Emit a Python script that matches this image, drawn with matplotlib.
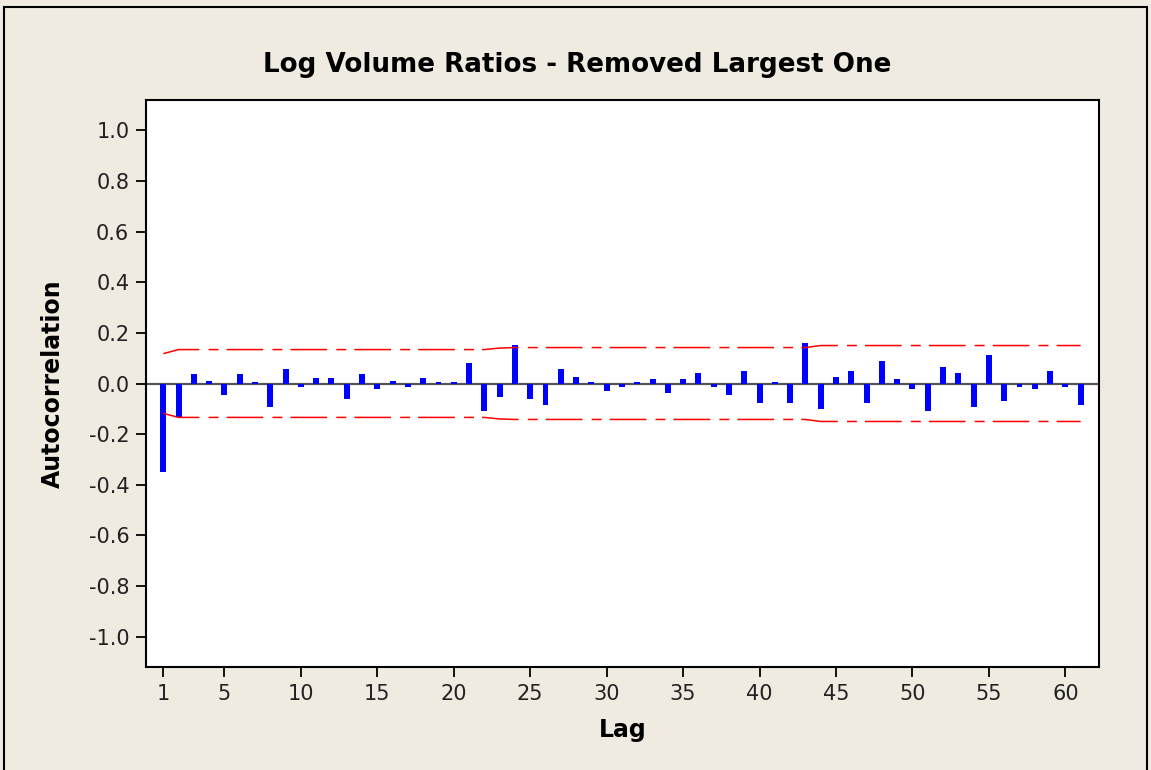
import numpy as np
import matplotlib
matplotlib.use("Agg")
import matplotlib.pyplot as plt
from matplotlib.patches import Rectangle

# ACF values, lags 1..61
lags = list(range(1, 62))
acf = [
    -0.351, -0.132, 0.036, 0.011, -0.045, 0.036, 0.005, -0.092, 0.058, -0.013,
    0.020, 0.020, -0.060, 0.036, -0.021, 0.011, -0.013, 0.020, 0.005, 0.005,
    0.082, -0.107, -0.053, 0.151, -0.060, -0.084, 0.057, 0.025, 0.005, -0.029,
    -0.013, 0.005, 0.018, -0.037, 0.018, 0.042, -0.013, -0.045, 0.050, -0.076,
    0.005, -0.076, 0.160, -0.100, 0.025, 0.050, -0.076, 0.089, 0.018, -0.021,
    -0.108, 0.066, 0.042, -0.092, 0.113, -0.068, -0.013, -0.021, 0.050, -0.013,
    -0.084,
]
# 5% significance limits (upper; lower is the mirror)
limit = ([0.118] + [0.134] * 21 + [0.140] + [0.142] * 20 + [0.150] * 18)

title = "Log Volume Ratios - Removed Largest One"
yticks = [-1.0, -0.8, -0.6, -0.4, -0.2, 0.0, 0.2, 0.4, 0.6, 0.8, 1.0]
xticks = [1, 5, 10, 15, 20, 25, 30, 35, 40, 45, 50, 55, 60]

bg = "#f0ebe1"
fig = plt.figure(figsize=(11.51, 7.70), dpi=100, facecolor=bg)
fig.patches.append(Rectangle((4 / 1151, -0.1), 1143 / 1151, 1.1 - 7 / 770,
                             transform=fig.transFigure, fill=False,
                             edgecolor="black", linewidth=1.5))

ax = fig.add_axes([146 / 1151, 1 - 667 / 770, 953 / 1151, 567 / 770])
ax.set_facecolor("white")

ax.bar(lags, acf, width=0.39, color="#0000ff", zorder=3)
ax.axhline(0, color="#555555", linewidth=1.6, zorder=2)

lim = np.array(limit)
dash = (0, (24, 6, 6.5, 5.3))
ax.plot(lags, lim, color="red", linewidth=1.1, linestyle=dash, zorder=4)
ax.plot(lags, -lim, color="red", linewidth=1.1, linestyle=dash, zorder=4)

ax.set_xlim(-0.13, 62.2)
ax.set_ylim(-1.12, 1.12)
ax.set_xticks(xticks)
ax.set_yticks(yticks)
ax.set_yticklabels([f"{v:.1f}" for v in yticks])
ax.tick_params(direction="out", length=7, width=1.3, labelsize=15,
               colors="black", labelcolor="#222222", pad=5)
for s in ax.spines.values():
    s.set_linewidth(1.5)

ax.set_xlabel("Lag", fontsize=17, fontweight="bold", labelpad=10)
ax.set_ylabel("Autocorrelation", fontsize=17, fontweight="bold", labelpad=17)
fig.text(577 / 1151, 1 - 65 / 770, title, ha="center", va="center",
         fontsize=18.8, fontweight="bold")

fig.savefig("out.png", dpi=100, facecolor=bg)
